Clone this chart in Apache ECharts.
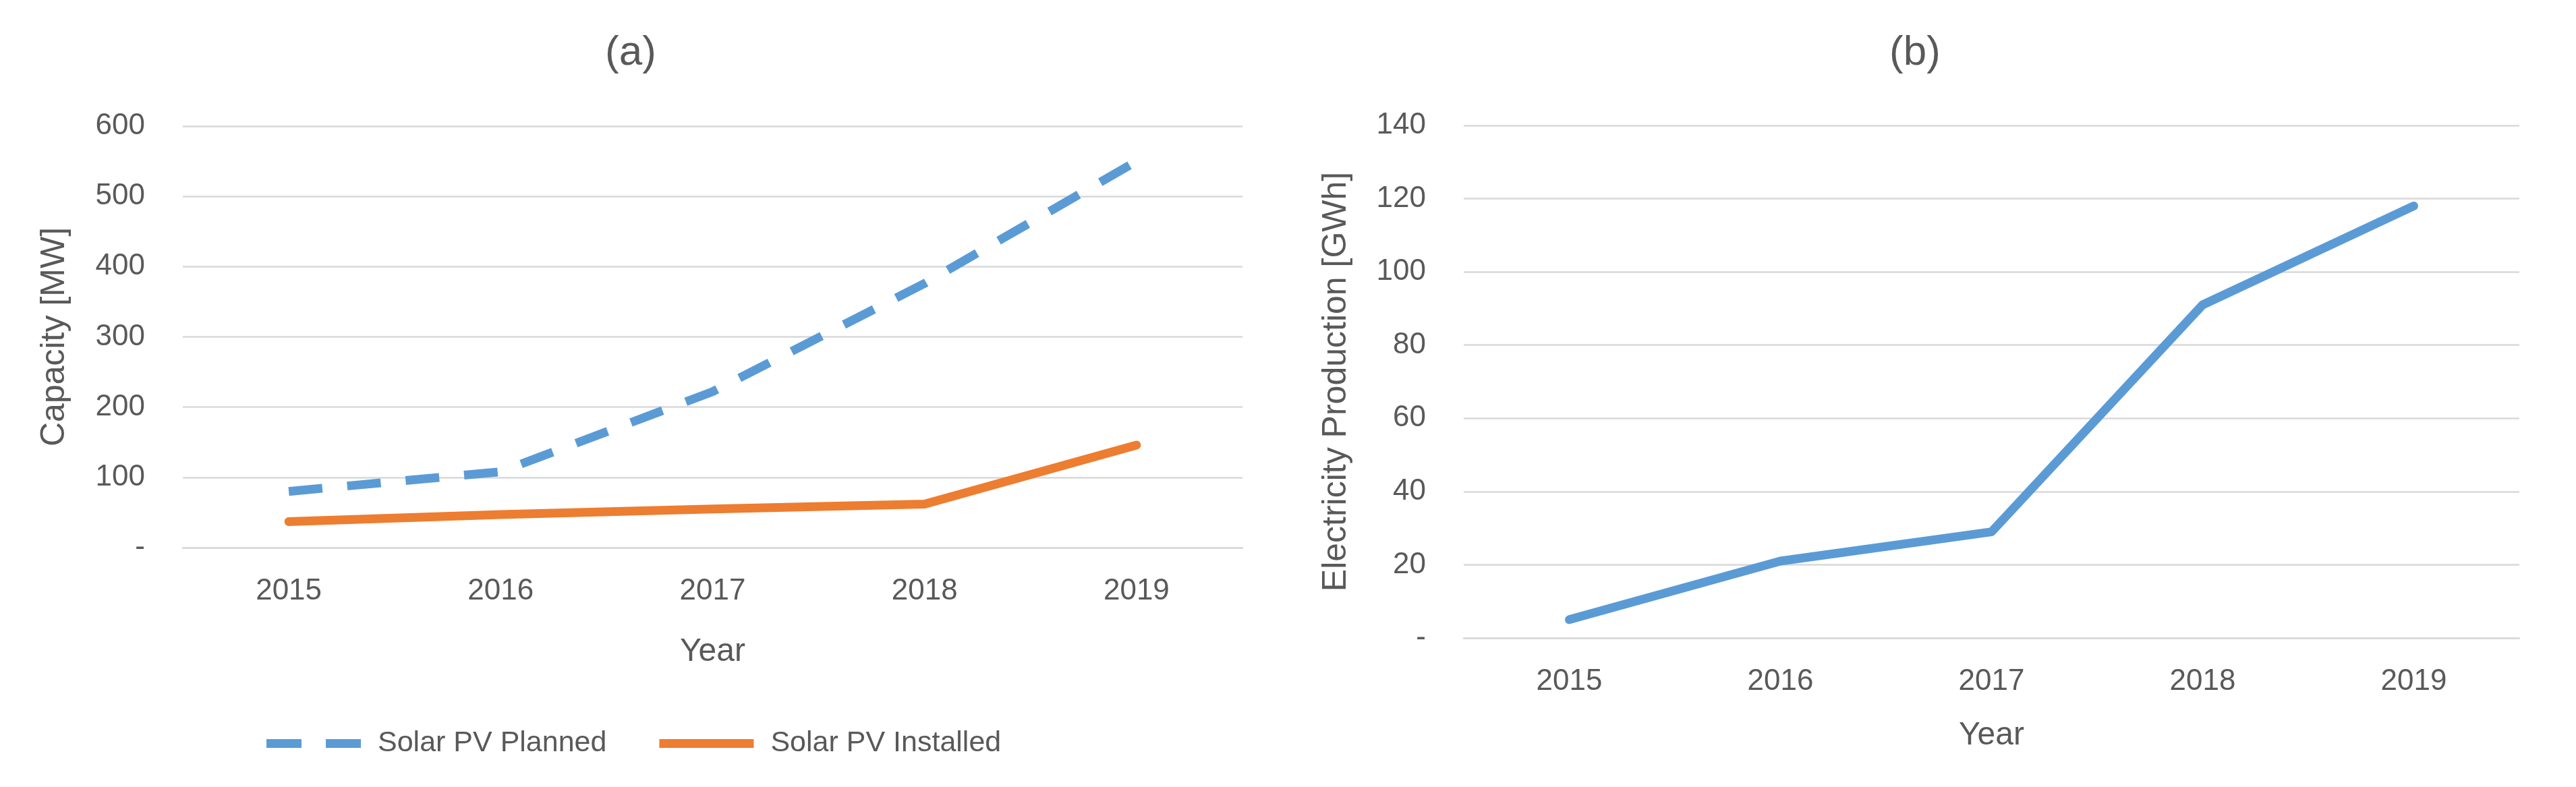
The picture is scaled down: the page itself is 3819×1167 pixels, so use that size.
<!DOCTYPE html>
<html>
<head>
<meta charset="utf-8">
<script src="https://cdn.jsdelivr.net/npm/echarts@6/dist/echarts.min.js"></script>
<style>
html,body{margin:0;padding:0;background:#fff;}
#c{width:3819px;height:1167px;}
</style>
</head>
<body>
<div id="c"></div>
<script>
const years = ['2015', '2016', '2017', '2018', '2019'];
const pvPlanned = [80, 108, 222, 376, 550];
const pvInstalled = [37, 47, 55, 62, 146];
const electricity = [5, 21, 29, 91, 118];
const capacityTicks = { min: 0, max: 600, interval: 100 };
const energyTicks = { min: 0, max: 140, interval: 20 };

const FONT = "'Liberation Sans', Arial, sans-serif";
const TXT = '#595959';
const GRIDC = '#D9D9D9';
const BLUE = '#5B9BD5';
const ORANGE = '#ED7D31';
const LW = 13;
const DASH = [50, 37];
const ICON_DASHED = 'path://M0,0 h52 v13 h-52 z M88,0 h52 v13 h-52 z';
const ICON_SOLID = 'path://M0,0 h140 v13 h-140 z';

function yLab(v) { return v === 0 ? '-' : String(v); }

const chart = echarts.init(document.getElementById('c'), null, { renderer: 'canvas' });

function xAxisCfg(gridIndex, margin, nameGap) {
  return {
    type: 'category', gridIndex: gridIndex, data: years, boundaryGap: true,
    name: 'Year', nameLocation: 'middle', nameGap: nameGap,
    nameTextStyle: { color: TXT, fontSize: 48, fontFamily: FONT },
    axisLine: { show: true, lineStyle: { color: GRIDC, width: 2.5 } },
    axisTick: { show: false },
    axisLabel: { color: TXT, fontSize: 44, fontFamily: FONT, margin: margin }
  };
}
function yAxisCfg(gridIndex, ticks, name, nameGap) {
  return {
    type: 'value', gridIndex: gridIndex, min: ticks.min, max: ticks.max, interval: ticks.interval,
    name: name, nameLocation: 'middle', nameGap: nameGap,
    nameTextStyle: { color: TXT, fontSize: 50, fontFamily: FONT },
    axisLine: { show: false }, axisTick: { show: false },
    splitLine: { show: true, lineStyle: { color: GRIDC, width: 2.5 } },
    axisLabel: { color: TXT, fontSize: 44, fontFamily: FONT, margin: 56, formatter: yLab }
  };
}

chart.setOption({
  animation: false,
  backgroundColor: '#ffffff',
  title: [
    { text: '(a)', left: 930, top: 74, textAlign: 'center', textVerticalAlign: 'middle',
      textStyle: { color: TXT, fontSize: 62, fontWeight: 'normal', fontFamily: FONT } },
    { text: '(b)', left: 2834, top: 74, textAlign: 'center', textVerticalAlign: 'middle',
      textStyle: { color: TXT, fontSize: 62, fontWeight: 'normal', fontFamily: FONT } }
  ],
  legend: {
    left: 390, top: 1076, itemWidth: 140, itemHeight: LW, itemGap: 78,
    textStyle: { color: TXT, fontSize: 43, fontFamily: FONT, padding: [0, 0, 0, 20] },
    data: [
      { name: 'Solar PV Planned', icon: ICON_DASHED, itemStyle: { color: BLUE, borderWidth: 0 } },
      { name: 'Solar PV Installed', icon: ICON_SOLID, itemStyle: { color: ORANGE, borderWidth: 0 } }
    ]
  },
  grid: [
    { left: 271, right: 1977, top: 187, bottom: 355 },
    { left: 2170, right: 84, top: 186, bottom: 221 }
  ],
  xAxis: [ xAxisCfg(0, 43, 131), xAxisCfg(1, 43, 121) ],
  yAxis: [
    yAxisCfg(0, capacityTicks, 'Capacity [MW]', 165),
    yAxisCfg(1, energyTicks, 'Electricity Production [GWh]', 164)
  ],
  series: [
    { name: 'Solar PV Planned', type: 'line', xAxisIndex: 0, yAxisIndex: 0, data: pvPlanned,
      symbol: 'none', lineStyle: { color: BLUE, width: LW, type: DASH, cap: 'butt' },
      itemStyle: { color: BLUE } },
    { name: 'Solar PV Installed', type: 'line', xAxisIndex: 0, yAxisIndex: 0, data: pvInstalled,
      symbol: 'none', lineStyle: { color: ORANGE, width: LW, cap: 'round', join: 'round' },
      itemStyle: { color: ORANGE } },
    { name: 'Electricity Production', type: 'line', xAxisIndex: 1, yAxisIndex: 1, data: electricity,
      symbol: 'none', lineStyle: { color: BLUE, width: LW, cap: 'round', join: 'round' },
      itemStyle: { color: BLUE } }
  ]
});
</script>
</body>
</html>
